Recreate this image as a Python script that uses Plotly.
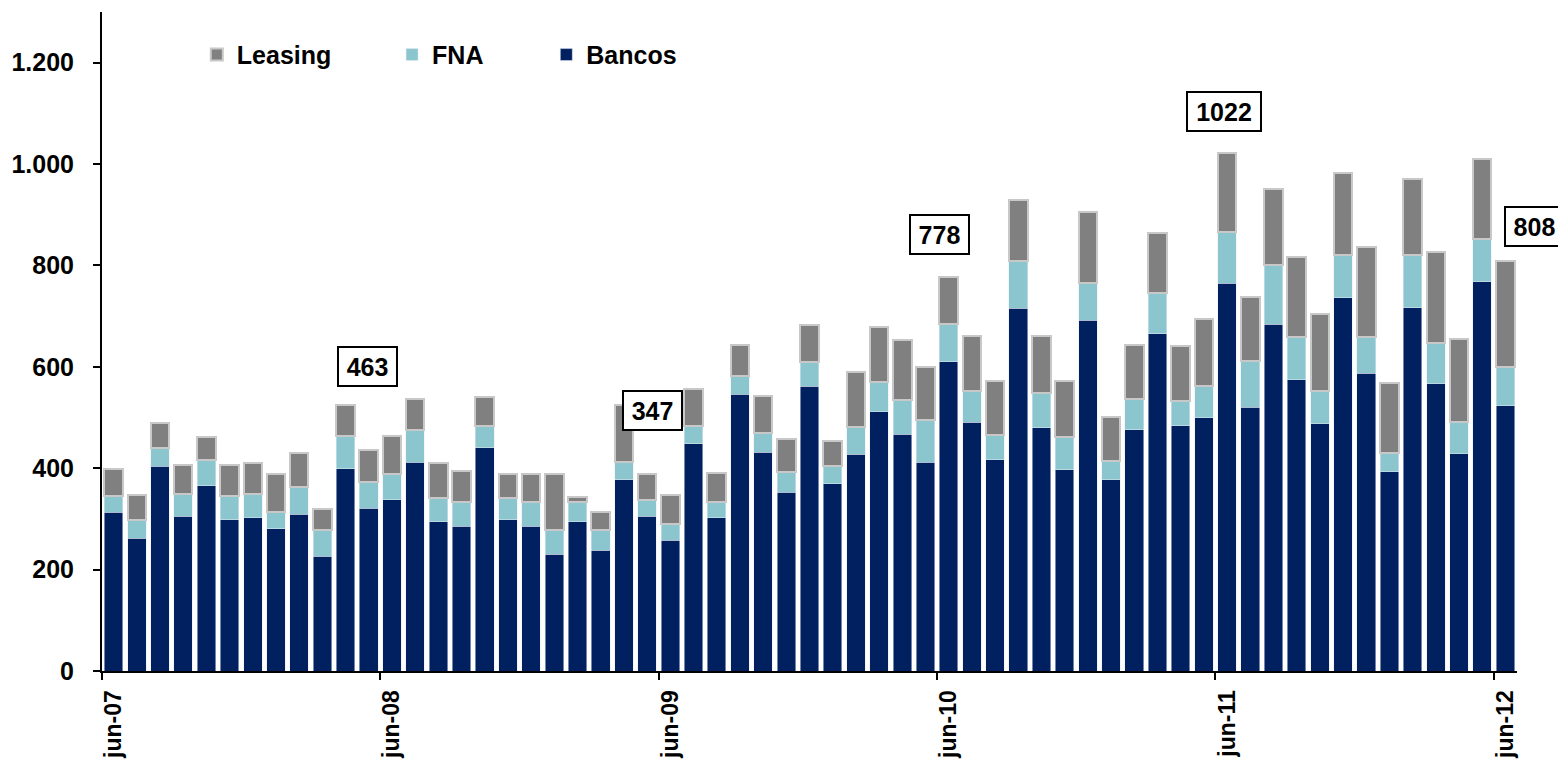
import pandas as pd
import plotly.graph_objects as go

# meses jun-07 .. jun-12 (61 barras)
months = pd.date_range("2007-06-01", periods=61, freq="MS")

bancos = [313, 262, 404, 305, 365, 298, 302, 281, 309, 226, 399, 321,
          338, 412, 294, 286, 440, 298, 286, 230, 294, 238, 377, 305,
          258, 448, 302, 546, 432, 353, 562, 369, 428, 511, 467, 412,
          610, 491, 417, 716, 480, 397, 692, 377, 476, 665, 484, 500,
          765, 520, 684, 575, 488, 736, 587, 393, 717, 567, 429, 768,
          523]
fna = [32, 36, 36, 45, 52, 48, 48, 33, 53, 53, 64, 52,
       51, 64, 48, 48, 44, 44, 48, 49, 40, 41, 35, 33,
       32, 36, 31, 36, 37, 39, 47, 35, 53, 59, 67, 84,
       75, 61, 48, 92, 68, 64, 74, 37, 60, 81, 49, 63,
       102, 92, 116, 84, 64, 84, 72, 37, 103, 80, 63, 84,
       76]
leasing = [54, 50, 50, 57, 45, 61, 61, 74, 69, 41, 62, 62,
           74, 60, 69, 61, 56, 46, 54, 109, 10, 34, 113, 50,
           57, 73, 58, 62, 73, 66, 74, 50, 108, 109, 118, 104,
           93, 108, 107, 121, 112, 111, 139, 88, 108, 119, 108, 132,
           155, 126, 151, 158, 152, 163, 178, 139, 151, 179, 163, 159,
           209]

# etiquetas de junio (valor total) y su desplazamiento en pixeles
label_idx = [12, 24, 36, 48, 60]
label_xshift = [-24, -18, -9, -3, 29]
label_yshift = [70, 85, 42, 41, 35]

x = list(range(len(months)))
june_idx = [i for i, m in enumerate(months) if m.month == 6]
june_txt = ["jun-" + m.strftime("%y") for m in months if m.month == 6]
totals = [b + f + l for b, f, l in zip(bancos, fna, leasing)]

FONT = "Liberation Sans, Arial, sans-serif"
SIZE = 25

fig = go.Figure()
fig.add_trace(go.Bar(x=x, y=bancos, name="Bancos", marker_color="#002060",
                     legend="legend3"))
fig.add_trace(go.Bar(x=x, y=fna, name="FNA", marker_color="#8BC6CE",
                     legend="legend2"))
fig.add_trace(go.Bar(x=x, y=leasing, name="Leasing",
                     marker=dict(color="#808080", line=dict(color="#C8C8C8", width=2)),
                     legend="legend"))

for i, xs, ys in zip(label_idx, label_xshift, label_yshift):
    fig.add_annotation(
        x=i, y=totals[i], xref="x", yref="y", text=str(totals[i]),
        showarrow=False, xshift=xs, yshift=ys,
        width=47 if totals[i] < 1000 else 62, height=27,
        bordercolor="black", borderwidth=2, borderpad=5, bgcolor="white",
        font=dict(family=FONT, size=SIZE, color="black", weight="bold"),
    )

leg = dict(orientation="h", yanchor="middle", y=0.935, xanchor="left",
           bgcolor="rgba(0,0,0,0)",
           font=dict(family=FONT, size=SIZE, color="black", weight="bold"))

fig.update_layout(
    barmode="stack",
    bargap=0.2,
    width=1558, height=760,
    paper_bgcolor="white", plot_bgcolor="white",
    separators=",.",
    showlegend=True,
    font=dict(family=FONT, size=SIZE, color="black", weight="bold"),
    margin=dict(l=94, r=49, t=4, b=97),
    legend=dict(leg, x=0.067),
    legend2=dict(leg, x=0.205),
    legend3=dict(leg, x=0.314),
    xaxis=dict(
        range=[-0.5, len(x) - 0.5],
        tickmode="array", tickvals=june_idx, ticktext=june_txt,
        tickangle=-90, ticks="", ticklabelstandoff=8,
        minor=dict(tickmode="linear", tick0=-0.5, dtick=12, ticks="outside",
                   ticklen=7, tickwidth=2, tickcolor="black", showgrid=False),
        showline=True, linecolor="black", linewidth=2,
        showgrid=False, zeroline=False, automargin=False,
        tickfont=dict(family=FONT, size=23, color="black", weight="bold"),
    ),
    yaxis=dict(
        range=[0, 1300], dtick=200, tickformat=",d",
        ticks="outside", ticklen=7, tickwidth=2, tickcolor="black",
        ticklabelstandoff=14,
        showline=True, linecolor="black", linewidth=2,
        showgrid=False, zeroline=False, automargin=False,
        tickfont=dict(family=FONT, size=SIZE, color="black", weight="bold"),
    ),
)

fig.write_html("out.html")
